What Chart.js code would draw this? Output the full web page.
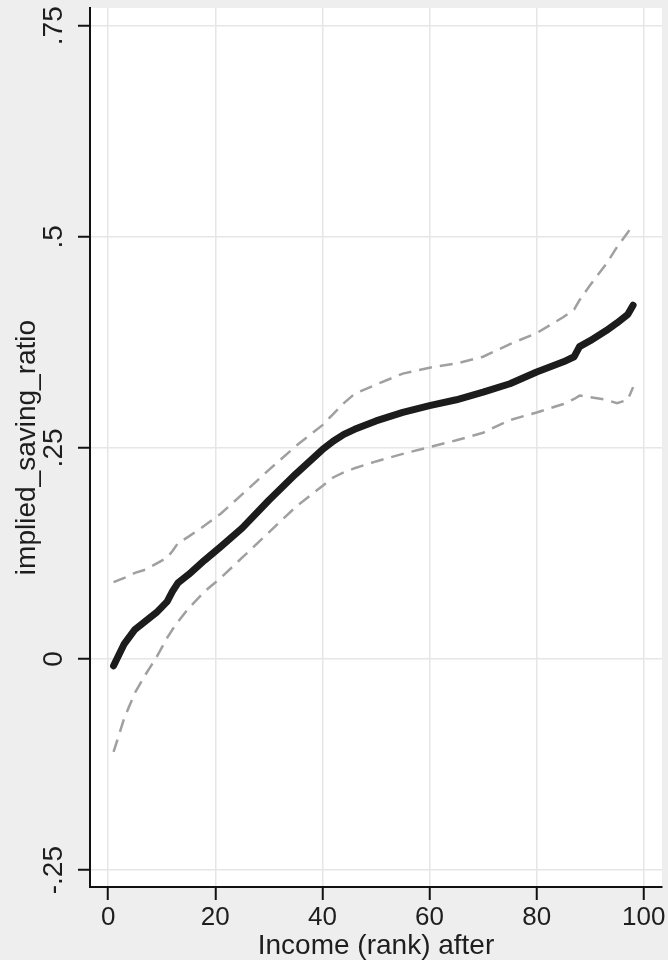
<!DOCTYPE html>
<html>
<head>
<meta charset="utf-8">
<script src="https://cdn.jsdelivr.net/npm/chart.js@4.4.1/dist/chart.umd.min.js"></script>
<style>
  body { margin: 0; background: #eeeeee; }
  canvas { display: block; }
</style>
</head>
<body>
<canvas id="myChart" width="668" height="960"></canvas>
<script>
// income rank (x) and the smoothed saving ratio with its band
const rank = [1, 3, 5, 7, 9, 11, 12, 13, 15, 18, 21, 25, 30, 35, 40, 42, 44, 46, 50, 55, 60, 65, 70, 75, 80, 85, 87, 88, 90, 93, 95, 97, 98];
const ratio = [-0.008, 0.018, 0.035, 0.045, 0.055, 0.068, 0.080, 0.090, 0.100, 0.117, 0.133, 0.155, 0.188, 0.219, 0.248, 0.258, 0.266, 0.272, 0.282, 0.292, 0.300, 0.307, 0.316, 0.326, 0.340, 0.352, 0.358, 0.370, 0.377, 0.389, 0.398, 0.408, 0.419];
const upper = [0.091, 0.096, 0.102, 0.106, 0.113, 0.120, 0.128, 0.137, 0.145, 0.158, 0.172, 0.195, 0.224, 0.252, 0.277, 0.290, 0.303, 0.314, 0.325, 0.338, 0.345, 0.350, 0.358, 0.373, 0.386, 0.405, 0.414, 0.425, 0.443, 0.468, 0.488, 0.505, 0.515];
const lower = [-0.110, -0.070, -0.040, -0.018, 0.002, 0.025, 0.035, 0.044, 0.060, 0.080, 0.096, 0.120, 0.150, 0.180, 0.205, 0.215, 0.221, 0.226, 0.234, 0.243, 0.251, 0.259, 0.268, 0.283, 0.292, 0.302, 0.308, 0.312, 0.310, 0.307, 0.303, 0.307, 0.322];

const xTicks = [0, 20, 40, 60, 80, 100];
const yTicks = [-0.25, 0, 0.25, 0.5, 0.75];
const yTickLabels = ['-.25', '0', '.25', '.5', '.75'];

const toPoints = ys => rank.map((x, i) => ({ x: x, y: ys[i] }));

const family = 'Liberation Sans, Arial, sans-serif';
const tickFont = { family: family, size: 26 };
const titleFont = { family: family, size: 28 };
const textColor = '#1e1e1e';

// grey page, white plot region
const panels = {
    id: 'panels',
    beforeDraw(chart) {
        const { ctx, chartArea: a } = chart;
        ctx.save();
        ctx.fillStyle = '#eeeeee';
        ctx.fillRect(0, 0, chart.width, chart.height);
        ctx.fillStyle = '#ffffff';
        ctx.fillRect(a.left, a.top, a.right - a.left, a.bottom - a.top);
        ctx.restore();
    }
};

const ctx = document.getElementById('myChart').getContext('2d');
const chart = new Chart(ctx, {
    type: 'scatter',
    data: {
        datasets: [
            {
                data: toPoints(upper),
                showLine: true,
                borderColor: '#a0a0a0',
                borderWidth: 2.5,
                borderDash: [13, 8],
                pointRadius: 0
            },
            {
                data: toPoints(lower),
                showLine: true,
                borderColor: '#a0a0a0',
                borderWidth: 2.5,
                borderDash: [13, 8],
                pointRadius: 0
            },
            {
                data: toPoints(ratio),
                showLine: true,
                borderColor: '#1c1c1c',
                borderWidth: 7,
                borderCapStyle: 'round',
                borderJoinStyle: 'round',
                pointRadius: 0
            }
        ]
    },
    options: {
        responsive: false,
        animation: false,
        layout: { padding: { top: 8, right: 6, left: 0, bottom: 0 } },
        plugins: { legend: { display: false }, tooltip: { enabled: false } },
        scales: {
            x: {
                type: 'linear',
                min: -3.4,
                max: 103.4,
                afterBuildTicks: s => { s.ticks = xTicks.map(v => ({ value: v })); },
                afterFit: s => { s.height = 73; s.paddingLeft = 0; s.paddingRight = 0; },
                border: { color: '#111', width: 2 },
                grid: { color: '#e6e6e6', lineWidth: 1.5, tickColor: '#111', tickLength: 13, tickWidth: 2 },
                ticks: { font: tickFont, color: textColor, padding: 2, maxRotation: 0 },
                title: { display: true, text: 'Income (rank) after', font: titleFont, color: textColor, padding: { top: 0, bottom: -3 } }
            },
            y: {
                type: 'linear',
                min: -0.27,
                max: 0.771,
                afterBuildTicks: s => { s.ticks = yTicks.map(v => ({ value: v })); },
                afterFit: s => { s.width = 90; s.paddingTop = 0; s.paddingBottom = 0; },
                border: { color: '#111', width: 2 },
                grid: { color: '#e6e6e6', lineWidth: 1.5, tickColor: '#111', tickLength: 12, tickWidth: 2 },
                ticks: {
                    font: { family: family, size: 28 },
                    color: textColor,
                    minRotation: 90,
                    maxRotation: 90,
                    crossAlign: 'center',
                    padding: 0,
                    callback: v => yTickLabels[yTicks.indexOf(v)]
                },
                title: { display: true, text: 'implied_saving_ratio', font: titleFont, color: textColor, padding: { top: 10, bottom: 0 } }
            }
        }
    },
    plugins: [panels]
});
</script>
</body>
</html>
